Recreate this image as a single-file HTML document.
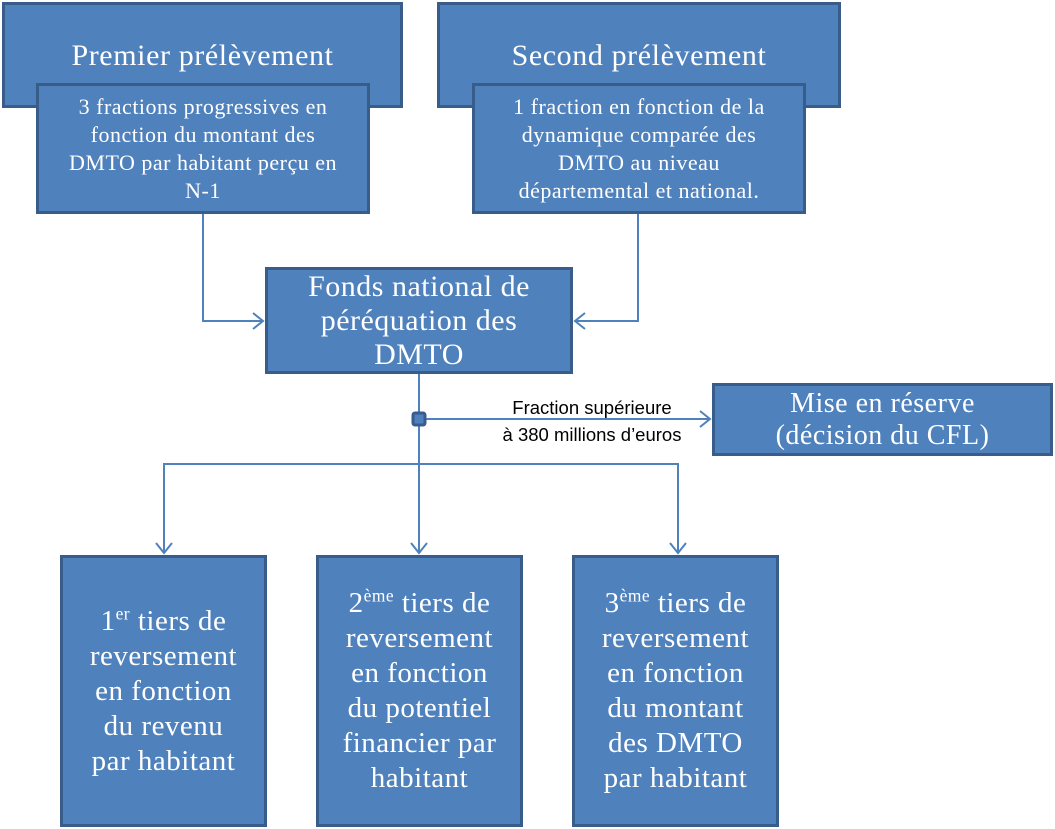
<!DOCTYPE html>
<html><head><meta charset="utf-8"><style>
body{margin:0;width:1055px;height:829px;background:#fff;position:relative;overflow:hidden}
.b{position:absolute;box-sizing:border-box;background:#4f81bd;border:3px solid #385d8a;color:#fff;font-family:"Liberation Serif",serif;display:flex;align-items:center;justify-content:center;text-align:center}
sup{font-size:0.6em;line-height:0;vertical-align:super}
</style></head><body>
<svg width="1055" height="829" style="position:absolute;left:0;top:0" fill="none" stroke="#4f81bd" stroke-width="2">
<polyline points="203,214 203,321 263,321"/><polyline points="253,313 263,321 253,329"/>
<polyline points="638,214 638,321 575,321"/><polyline points="585,313 575,321 585,329"/>
<line x1="419" y1="374" x2="419" y2="553"/><polyline points="411,543 419,553 427,543"/>
<line x1="419" y1="419" x2="710" y2="419"/><polyline points="700,411 710,419 700,427"/>
<polyline points="164,553 164,464 678,464 678,553"/>
<polyline points="156,543 164,553 172,543"/><polyline points="670,543 678,553 686,543"/>
<rect x="413" y="413" width="12" height="12" rx="2" fill="#4f81bd" stroke="#385d8a" stroke-width="3"/>
<text x="592" y="414" font-family="Liberation Sans,sans-serif" font-size="18.5" fill="#000" stroke="none" text-anchor="middle">Fraction supérieure</text>
<text x="592" y="441" font-family="Liberation Sans,sans-serif" font-size="18.5" fill="#000" stroke="none" text-anchor="middle">à 380 millions d’euros</text>
</svg>
<div class="b" style="left:2px;top:2px;width:401px;height:106px;font-size:30px;letter-spacing:0.6px;align-items:flex-start;padding-top:34px"><span>Premier prélèvement</span></div>
<div class="b" style="left:36px;top:83px;width:334px;height:131px;font-size:22px;letter-spacing:0.5px;line-height:28px"><span>3 fractions progressives en<br>fonction du montant des<br>DMTO par habitant perçu en<br>N-1</span></div>
<div class="b" style="left:437px;top:2px;width:404px;height:106px;font-size:30px;letter-spacing:0.6px;align-items:flex-start;padding-top:34px"><span>Second prélèvement</span></div>
<div class="b" style="left:472px;top:83px;width:334px;height:131px;font-size:22px;letter-spacing:0.5px;line-height:28px"><span>1 fraction en fonction de la<br>dynamique comparée des<br>DMTO au niveau<br>départemental et national.</span></div>
<div class="b" style="left:265px;top:267px;width:308px;height:107px;font-size:30px;letter-spacing:0.5px;line-height:34px"><span>Fonds national de<br>péréquation des<br>DMTO</span></div>
<div class="b" style="left:712px;top:383px;width:341px;height:73px;font-size:28px;letter-spacing:0.5px;line-height:32px"><span>Mise en réserve<br>(décision du CFL)</span></div>
<div class="b" style="left:60px;top:555px;width:207px;height:272px;font-size:29px;letter-spacing:0.5px;line-height:35px"><span>1<sup>er</sup> tiers de<br>reversement<br>en fonction<br>du revenu<br>par habitant</span></div>
<div class="b" style="left:316px;top:555px;width:207px;height:272px;font-size:29px;letter-spacing:0.5px;line-height:35px"><span>2<sup>ème</sup> tiers de<br>reversement<br>en fonction<br>du potentiel<br>financier par<br>habitant</span></div>
<div class="b" style="left:572px;top:555px;width:207px;height:272px;font-size:29px;letter-spacing:0.5px;line-height:35px"><span>3<sup>ème</sup> tiers de<br>reversement<br>en fonction<br>du montant<br>des DMTO<br>par habitant</span></div>
</body></html>
